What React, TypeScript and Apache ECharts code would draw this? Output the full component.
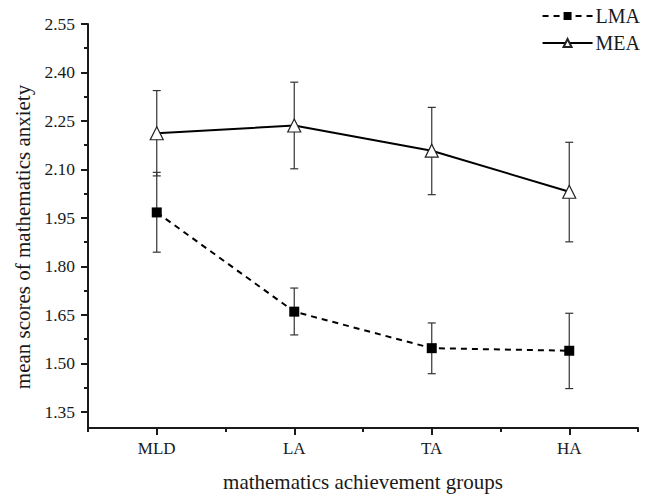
import React, { useEffect, useRef } from "react";
import * as echarts from "echarts";

const categories = ["MLD", "LA", "TA", "HA"];
const lmaMean = [1.967, 1.66, 1.547, 1.539];
const lmaLow = [1.844, 1.588, 1.468, 1.422];
const lmaHigh = [2.091, 1.733, 1.625, 1.655];
const meaMean = [2.212, 2.236, 2.158, 2.031];
const meaLow = [2.08, 2.102, 2.022, 1.876];
const meaHigh = [2.344, 2.37, 2.292, 2.184];
const yMajorTicks = [1.35, 1.5, 1.65, 1.8, 1.95, 2.1, 2.25, 2.4, 2.55];
const yMinorTicks = [1.425, 1.575, 1.725, 1.875, 2.025, 2.175, 2.325, 2.475];
const xMajorTicks = [1, 2, 3, 4];
const xMinorTicks = [0.5, 1.5, 2.5, 3.5, 4.5];

const FONT = "Liberation Serif";
const INK = "#1a1a1a";

function errData(low: number[], high: number[]) {
  return categories.map((_, i) => [i + 1, low[i], high[i]]);
}

function errorBarSeries(low: number[], high: number[]) {
  return {
    type: "custom",
    z: 1,
    silent: true,
    data: errData(low, high),
    encode: { x: 0, y: [1, 2] },
    renderItem: (params: any, api: any) => {
      const x = api.value(0);
      const lo = api.coord([x, api.value(1)]);
      const hi = api.coord([x, api.value(2)]);
      const w = 4;
      const style = { stroke: "#333", lineWidth: 1.2 };
      return {
        type: "group",
        children: [
          { type: "line", shape: { x1: lo[0], y1: lo[1], x2: hi[0], y2: hi[1] }, style },
          { type: "line", shape: { x1: lo[0] - w, y1: lo[1], x2: lo[0] + w, y2: lo[1] }, style },
          { type: "line", shape: { x1: hi[0] - w, y1: hi[1], x2: hi[0] + w, y2: hi[1] }, style },
        ],
      };
    },
  };
}

export default function App() {
  const ref = useRef<HTMLDivElement>(null);
  useEffect(() => {
    if (!ref.current) return;
    const chart = echarts.init(ref.current, undefined, { renderer: "svg" });
    const yBase = {
      type: "value",
      min: 1.3,
      max: 2.55,
      splitLine: { show: false },
    };
    const xBase = {
      type: "value",
      min: 0.5,
      max: 4.5,
      splitLine: { show: false },
    };
    chart.setOption({
      animation: false,
      backgroundColor: "#fff",
      textStyle: { fontFamily: FONT },
      grid: { left: 88, right: 9, top: 24, bottom: 65 },
      legend: {
        orient: "vertical",
        right: 2,
        top: 1,
        itemWidth: 50,
        itemHeight: 10,
        itemGap: 7,
        textStyle: { fontFamily: FONT, fontSize: 20, color: INK, padding: [0, 0, 0, -2] },
        data: ["LMA", "MEA"],
      },
      xAxis: [
        {
          ...xBase,
          position: "bottom",
          axisLine: { show: true, lineStyle: { color: INK, width: 2 } },
          axisTick: { show: true, length: 7, customValues: xMajorTicks, lineStyle: { color: INK, width: 2 } },
          axisLabel: {
            show: true,
            customValues: xMajorTicks,
            formatter: (v: number) => categories[Math.round(v) - 1] ?? "",
            fontFamily: FONT,
            fontSize: 17,
            color: INK,
            margin: 12,
          },
          name: "mathematics achievement groups",
          nameLocation: "middle",
          nameGap: 43,
          nameTextStyle: { fontFamily: FONT, fontSize: 21, color: INK },
        },
        {
          ...xBase,
          position: "bottom",
          axisLine: { show: false },
          axisTick: { show: true, length: 4, customValues: xMinorTicks, lineStyle: { color: INK, width: 2 } },
          axisLabel: { show: false },
        },
      ],
      yAxis: [
        {
          ...yBase,
          position: "left",
          axisLine: { show: true, lineStyle: { color: INK, width: 2 } },
          axisTick: { show: true, length: 7, customValues: yMajorTicks, lineStyle: { color: INK, width: 2 } },
          axisLabel: {
            show: true,
            customValues: yMajorTicks,
            formatter: (v: number) => v.toFixed(2),
            fontFamily: FONT,
            fontSize: 17.5,
            color: INK,
            margin: 13,
          },
          name: "mean scores of mathematics anxiety",
          nameLocation: "middle",
          nameGap: 54,
          nameRotate: 90,
          nameTextStyle: { fontFamily: FONT, fontSize: 21, color: INK, padding: [0, 0, 0, -22] },
        },
        {
          ...yBase,
          position: "left",
          axisLine: { show: false },
          axisTick: { show: true, length: 4, customValues: yMinorTicks, lineStyle: { color: INK, width: 2 } },
          axisLabel: { show: false },
        },
      ],
      series: [
        errorBarSeries(lmaLow, lmaHigh),
        errorBarSeries(meaLow, meaHigh),
        {
          name: "LMA",
          type: "line",
          z: 3,
          data: categories.map((_, i) => [i + 1, lmaMean[i]]),
          symbol: "rect",
          symbolSize: 10,
          lineStyle: { color: "#000", width: 2, type: [6, 5] },
          itemStyle: { color: "#000", borderColor: "#000", borderWidth: 0 },
        },
        {
          name: "MEA",
          type: "line",
          z: 3,
          data: categories.map((_, i) => [i + 1, meaMean[i]]),
          symbol: "triangle",
          symbolSize: 13,
          showAllSymbol: true,
          lineStyle: { color: "#000", width: 2 },
          itemStyle: { color: "#fff", borderColor: "#222", borderWidth: 1.2 },
        },
      ],
    });
    return () => chart.dispose();
  }, []);
  return <div ref={ref} style={{ width: 647, height: 497, position: "absolute", left: 0, top: 0 }} />;
}
